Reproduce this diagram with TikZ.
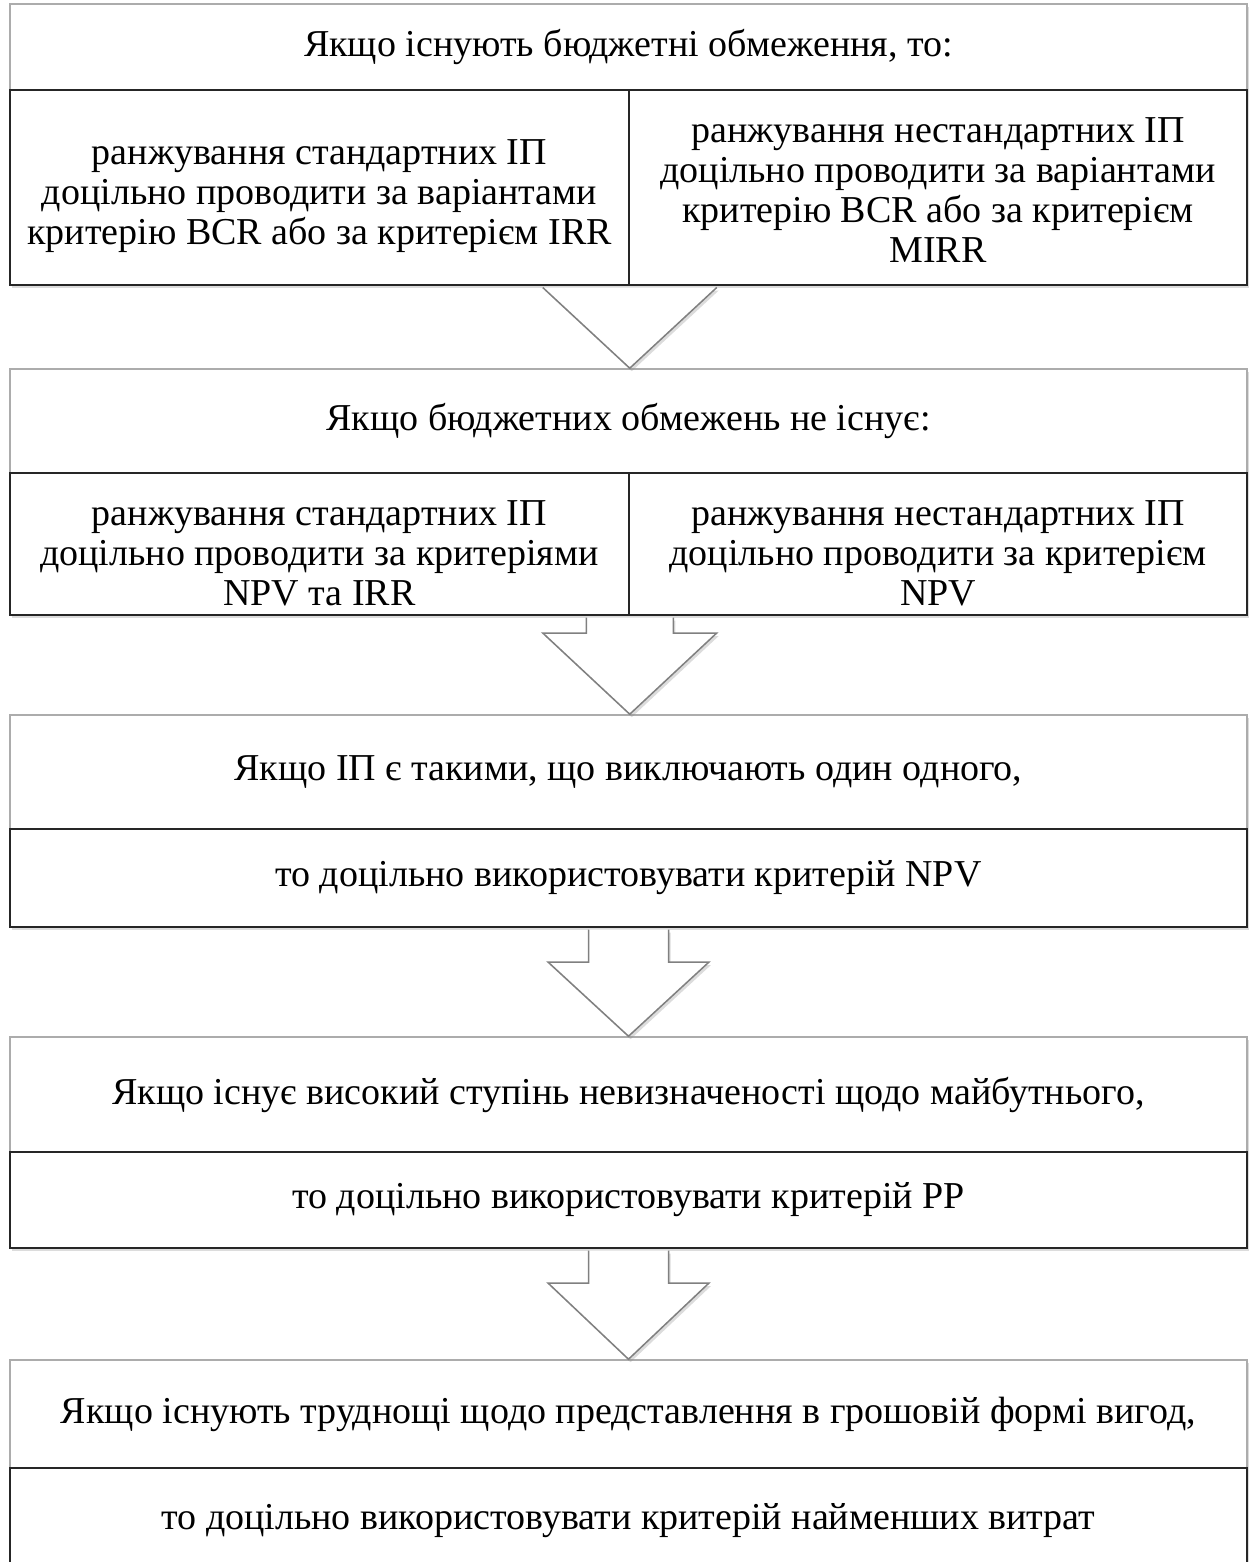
\documentclass[tikz,border=0pt]{standalone}
\usepackage{fontspec}
\setmainfont{Liberation Serif}
\usetikzlibrary{calc,shadows}

\begin{document}
\begin{tikzpicture}[x=0.5pt,y=-0.5pt]
\tikzset{
  cellshadow/.style={drop shadow={shadow xshift=1pt,shadow yshift=-1.5pt,fill=black!45,opacity=0.3}},
  headcell/.style={rectangle,draw=gray!65,line width=0.8pt,fill=white,inner sep=0pt,minimum width=618.5pt,font=\fontsize{19}{20}\selectfont,cellshadow},
  bodycell/.style={rectangle,draw=black!85,line width=1pt,fill=white,inner sep=0pt,minimum width=618.5pt,font=\fontsize{19}{20}\selectfont,cellshadow},
  halfcell/.style={bodycell,minimum width=309.25pt},
  celltext/.style={align=center,inner sep=0pt,font=\fontsize{19}{20}\selectfont},
  arrowbody/.style={fill=white,draw=none,cellshadow},
  arrowedge/.style={draw=black!50,line width=0.75pt,line join=miter}
}
\path[use as bounding box,clip] (0,0) rectangle (1249,1562);

% budget limits exist
\node[headcell,minimum height=43pt] (b1t) at (628.5,47) {Якщо існують бюджетні обмеження, то:};
\node[halfcell,minimum height=97.5pt] (b1l) at (319.5,187.5) {};
\node[halfcell,minimum height=97.5pt] (b1r) at (938,187.5) {};
\node[celltext] (t1l) at (319.5,196) {ранжування стандартних ІП\\доцільно проводити за варіантами\\критерію BCR або за критерієм IRR};
\node[celltext] (t1r) at (938,190) {ранжування нестандартних ІП\\доцільно проводити за варіантами\\критерію BCR або за критерієм\\MIRR};

% no budget limits
\node[headcell,minimum height=52pt] (b2t) at (628.5,421) {Якщо бюджетних обмежень не існує:};
\node[halfcell,minimum height=71pt] (b2l) at (319.5,544) {};
\node[halfcell,minimum height=71pt] (b2r) at (938,544) {};
\node[celltext] (t2l) at (319.5,553) {ранжування стандартних ІП\\доцільно проводити за критеріями\\NPV та IRR};
\node[celltext] (t2r) at (938,553) {ранжування нестандартних ІП\\доцільно проводити за критерієм\\NPV};

% mutually exclusive projects
\node[headcell,minimum height=57pt] (b3t) at (628.5,772) {Якщо ІП є такими, що виключають один одного,};
\node[bodycell,minimum height=49pt] (b3b) at (628.5,878) {то доцільно використовувати критерій NPV};

% uncertainty
\node[headcell,minimum height=57.5pt] (b4t) at (628.5,1094.5) {Якщо існує високий ступінь невизначеності щодо майбутнього,};
\node[bodycell,minimum height=48pt] (b4b) at (628.5,1200) {то доцільно використовувати критерій PP};

% benefits hard to value
\node[headcell,minimum height=54pt] (b5t) at (628.5,1414) {Якщо існують труднощі щодо представлення в грошовій формі вигод,};
\node[bodycell,minimum height=53pt] (b5b) at (628.5,1521) {то доцільно використовувати критерій найменших витрат};

% block arrows
\coordinate (a1) at (b1l.south east);
\coordinate (p1) at (b1l.south east |- b2t.north);
\path[arrowbody] ($(a1)+(-87,1.5)$) -- (p1) -- ($(a1)+(87,1.5)$) -- cycle;
\draw[arrowedge] ($(a1)+(-87,1.5)$) -- (p1) -- ($(a1)+(87,1.5)$);

\coordinate (a2) at (b2l.south east);
\coordinate (p2) at (b2l.south east |- b3t.north);
\path[arrowbody] ($(a2)+(-43.5,1.5)$) -- ($(a2)+(-43.5,17)$) -- ($(a2)+(-87,17)$) -- (p2)
  -- ($(a2)+(87,17)$) -- ($(a2)+(43.5,17)$) -- ($(a2)+(43.5,1.5)$) -- cycle;
\draw[arrowedge] ($(a2)+(-43.5,1.5)$) -- ($(a2)+(-43.5,17)$) -- ($(a2)+(-87,17)$) -- (p2)
  -- ($(a2)+(87,17)$) -- ($(a2)+(43.5,17)$) -- ($(a2)+(43.5,1.5)$);

\coordinate (a3) at (b3b.south);
\coordinate (p3) at (b4t.north);
\path[arrowbody] ($(a3)+(-40,1.5)$) -- ($(a3)+(-40,34)$) -- ($(a3)+(-80.5,34)$) -- (p3)
  -- ($(a3)+(80.5,34)$) -- ($(a3)+(40,34)$) -- ($(a3)+(40,1.5)$) -- cycle;
\draw[arrowedge] ($(a3)+(-40,1.5)$) -- ($(a3)+(-40,34)$) -- ($(a3)+(-80.5,34)$) -- (p3)
  -- ($(a3)+(80.5,34)$) -- ($(a3)+(40,34)$) -- ($(a3)+(40,1.5)$);

\coordinate (a4) at (b4b.south);
\coordinate (p4) at (b5t.north);
\path[arrowbody] ($(a4)+(-40,1.5)$) -- ($(a4)+(-40,34)$) -- ($(a4)+(-80.5,34)$) -- (p4)
  -- ($(a4)+(80.5,34)$) -- ($(a4)+(40,34)$) -- ($(a4)+(40,1.5)$) -- cycle;
\draw[arrowedge] ($(a4)+(-40,1.5)$) -- ($(a4)+(-40,34)$) -- ($(a4)+(-80.5,34)$) -- (p4)
  -- ($(a4)+(80.5,34)$) -- ($(a4)+(40,34)$) -- ($(a4)+(40,1.5)$);
\end{tikzpicture}
\end{document}
